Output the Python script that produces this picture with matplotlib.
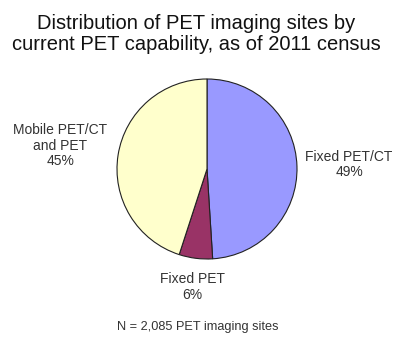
import numpy as np
import matplotlib
matplotlib.use("Agg")
import matplotlib.pyplot as plt

plt.rcParams['font.family'] = ['Liberation Sans', 'DejaVu Sans']

labels = ['Fixed PET/CT', 'Fixed PET', 'Mobile PET/CT\nand PET']
shares = [49, 6, 45]
colors = ['#9999FF', '#993366', '#FFFFCC']
label_dist = [1.58, 1.32, 1.65]

W, H = 400, 347
fig = plt.figure(figsize=(W / 100, H / 100), dpi=100)
ax = fig.add_axes([0, 0, 1, 1])

cx, cy, r = 207, H - 169, 90
wedges, _ = ax.pie(shares, colors=colors, startangle=90, counterclock=False,
                   center=(cx, cy), radius=r, frame=True,
                   wedgeprops=dict(edgecolor='#222222', linewidth=0.8))
ax.set_xlim(0, W)
ax.set_ylim(0, H)
ax.set_aspect('equal')
ax.axis('off')

for w, lab, val, d in zip(wedges, labels, shares, label_dist):
    ang = np.deg2rad((w.theta1 + w.theta2) / 2)
    x = cx + d * r * np.cos(ang)
    y = cy + d * r * np.sin(ang)
    ax.text(x, y, f"{lab}\n{val}%", ha='center', va='center',
            fontsize=10, color='#333333', linespacing=1.15)

ax.text(W / 2 - 4, H - 34, "Distribution of PET imaging sites by\ncurrent PET capability, as of 2011 census",
        ha='center', va='center', fontsize=14.5, color='#111111', linespacing=1.1)
ax.text(198, H - 327, "N = 2,085 PET imaging sites", ha='center', va='center',
        fontsize=9.2, color='#333333')

fig.savefig('out.png', dpi=100)
